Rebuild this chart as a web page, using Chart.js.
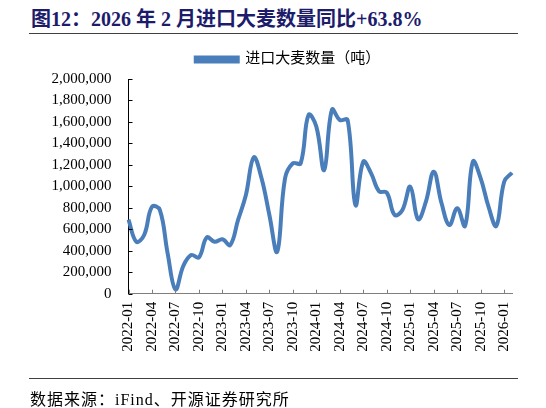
<!DOCTYPE html>
<html>
<head>
<meta charset="utf-8">
<script src="https://cdn.jsdelivr.net/npm/chart.js@4.4.1/dist/chart.umd.min.js"></script>
<style>
  body { margin: 0; background: #fff; }
  #wrap { position: relative; width: 546px; height: 408px; overflow: hidden; }
  #chart { position: absolute; left: 0; top: 0; }
  .title {
    position: absolute; left: 31px; top: 3px;
    font: bold 20px "Liberation Serif", "Noto Sans CJK SC", serif;
    color: #1c1c6b; white-space: nowrap;
  }
  .rule { position: absolute; left: 29px; width: 489px; height: 0; border-top: 1px solid #404040; }
  .source {
    position: absolute; left: 30px; top: 386px;
    font: 16px "Liberation Serif", "Noto Sans CJK SC", serif;
    letter-spacing: 1px;
    color: #000; white-space: nowrap;
  }
</style>
</head>
<body>
<div id="wrap">
  <div class="title">图12：2026 年 2 月进口大麦数量同比+63.8%</div>
  <div class="rule" style="top:33px"></div>
  <canvas id="chart" width="546" height="408"></canvas>
  <div class="rule" style="top:378px"></div>
  <div class="source">数据来源：iFind、开源证券研究所</div>
</div>
<script>
// months 2022-01 .. 2026-02
const months = [
  "2022-01", "2022-02", "2022-03", "2022-04", "2022-05", "2022-06", "2022-07", "2022-08", "2022-09", "2022-10", "2022-11", "2022-12",
  "2023-01", "2023-02", "2023-03", "2023-04", "2023-05", "2023-06", "2023-07", "2023-08", "2023-09", "2023-10", "2023-11", "2023-12",
  "2024-01", "2024-02", "2024-03", "2024-04", "2024-05", "2024-06", "2024-07", "2024-08", "2024-09", "2024-10", "2024-11", "2024-12",
  "2025-01", "2025-02", "2025-03", "2025-04", "2025-05", "2025-06", "2025-07", "2025-08", "2025-09", "2025-10", "2025-11", "2025-12",
  "2026-01", "2026-02",
];

// 进口大麦数量（吨）
const barleyImports = [
  690000, 484000, 547000, 810000, 780000, 376000, 40000, 258000, 360000, 339000, 525000, 484000,
  507000, 454000, 687000, 920000, 1270000, 1075000, 733000, 391000, 1075000, 1215000, 1215000, 1665000,
  1556000, 1152000, 1715000, 1618000, 1618000, 826000, 1230000, 1121000, 955000, 941000, 733000, 780000,
  997000, 693000, 857000, 1137000, 842000, 640000, 795000, 631000, 1230000, 1075000, 810000, 631000,
  1043000, 1127000,
];

const yTicks = { min: 0, max: 2000000, step: 200000 };

const serif = "'Liberation Serif', 'Noto Sans CJK SC', serif";
const lineColor = "#4a7ebb";

// small tick marks drawn on the inside of both axes
const innerTicks = {
  id: "innerTicks",
  afterDraw(chart) {
    const ctx = chart.ctx;
    const x = chart.scales.x;
    const y = chart.scales.y;
    ctx.save();
    ctx.lineWidth = 1;
    ctx.strokeStyle = "#7f7f7f";
    x.ticks.forEach((t, i) => {
      if (!t.label) return;
      const px = Math.round(x.getPixelForTick(i)) + 0.5;
      ctx.beginPath();
      ctx.moveTo(px, x.top);
      ctx.lineTo(px, x.top - 4);
      ctx.stroke();
    });
    ctx.strokeStyle = "#000";
    y.ticks.forEach((t, i) => {
      const py = Math.round(y.getPixelForTick(i)) + 0.5;
      ctx.beginPath();
      ctx.moveTo(y.right, py);
      ctx.lineTo(y.right + 4, py);
      ctx.stroke();
    });
    ctx.restore();
  },
};

// fix legend box height so the plot starts where the reference does,
// and nudge the legend right to sit where it does in the reference
const legendPlace = {
  id: "legendPlace",
  beforeInit(chart) {
    const fit = chart.legend.fit;
    chart.legend.fit = function () {
      fit.bind(chart.legend)();
      this.height = 31;
    };
  },
  afterLayout(chart) {
    chart.legend.left += 32;
    chart.legend.right += 32;
  },
};

const ctx = document.getElementById("chart").getContext("2d");
const chart = new Chart(ctx, {
  type: "line",
  data: {
    labels: months,
    datasets: [
      {
        label: "进口大麦数量（吨）",
        data: barleyImports,
        borderColor: lineColor,
        backgroundColor: lineColor,
        borderWidth: 4,
        pointRadius: 0,
        tension: 0.4,
        fill: false,
      },
    ],
  },
  options: {
    responsive: false,
    animation: false,
    devicePixelRatio: 1,
    layout: { padding: { top: 48, left: 0, right: 34, bottom: 0 } },
    plugins: {
      legend: {
        position: "top",
        labels: {
          boxWidth: 42,
          boxHeight: 4,
          padding: 4,
          color: "#000",
          font: { family: serif, size: 15 },
        },
      },
      tooltip: { enabled: false },
    },
    scales: {
      x: {
        offset: false,
        grid: { drawOnChartArea: false, drawTicks: false },
        border: { color: "#7f7f7f", width: 1 },
        ticks: {
          autoSkip: false,
          maxRotation: 90,
          minRotation: 90,
          padding: 8,
          color: "#000",
          font: { family: serif, size: 15 },
          callback: function (v, i) {
            return i % 3 === 0 ? months[i] : null;
          },
        },
        afterFit(scale) {
          scale.height = 408 - 293.7;
        },
      },
      y: {
        min: yTicks.min,
        max: yTicks.max,
        grid: { drawOnChartArea: false, drawTicks: false },
        border: { color: "#000", width: 1 },
        ticks: {
          stepSize: yTicks.step,
          padding: 17,
          color: "#000",
          font: { family: serif, size: 15 },
          callback: (v) => v.toLocaleString("en-US"),
        },
        afterFit(scale) {
          scale.width = 128.5;
        },
      },
    },
  },
  plugins: [innerTicks, legendPlace],
});
</script>
</body>
</html>
